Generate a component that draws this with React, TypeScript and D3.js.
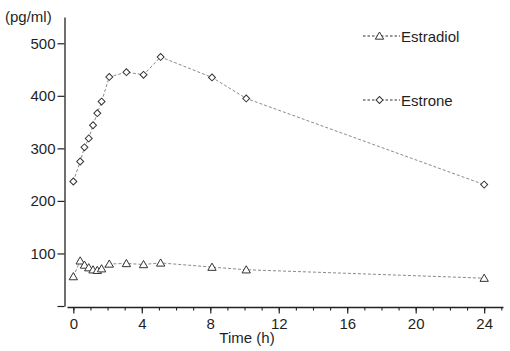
import * as d3 from "d3";
import { useEffect, useRef } from "react";

const TIMES = [0, 0.4, 0.65, 0.9, 1.15, 1.4, 1.65, 2.1, 3.1, 4.1, 5.1, 8.1, 10.1, 24];
const ESTRADIOL = [56, 86, 78, 73, 69, 68, 71, 80, 81, 79, 82, 74, 69, 53];
const ESTRONE = [237, 275, 302, 319, 344, 367, 389, 436, 445, 440, 474, 435, 395, 231];
const X_TICKS = [0, 4, 8, 12, 16, 20, 24];
const Y_TICKS = [0, 100, 200, 300, 400, 500];

const COLORS = {
  text: "#1f1f1f",
  axis: "#222222",
  line: "#8a8a8a",
  marker: "#333333",
};

const FONT = "'Liberation Sans', Arial, sans-serif";

const W = 510;
const H = 351;

const App = () => {
  const svgRef = useRef<SVGSVGElement | null>(null);

  useEffect(() => {
    const svg = d3.select(svgRef.current);
    svg.selectAll("*").remove();

    const x = d3.scaleLinear().domain([-0.37, 25.1]).range([67, 503]);
    const y = d3.scaleLinear().domain([0, 550]).range([306, 17]);

    // y axis
    const yAxis = d3
      .axisLeft(y)
      .tickValues(Y_TICKS)
      .tickSize(7)
      .tickSizeOuter(0)
      .tickPadding(2)
      .tickFormat((d) => (d === 0 ? "" : String(d)));
    const gy = svg.append("g").attr("transform", "translate(64.5,0)").call(yAxis);
    gy.select(".domain").attr("stroke", COLORS.axis).attr("stroke-width", 1.3);
    gy.selectAll("line").attr("stroke", COLORS.axis).attr("stroke-width", 1.2);
    gy.selectAll("text")
      .attr("font-family", FONT)
      .attr("font-size", 15)
      .attr("fill", COLORS.text);

    // x axis (minor ticks)
    const xMinor = d3
      .axisBottom(x)
      .tickValues(d3.range(0, 26))
      .tickSize(3.5)
      .tickSizeOuter(0)
      .tickFormat(() => "");
    const gxm = svg.append("g").attr("transform", "translate(0,307)").call(xMinor);
    gxm.select(".domain").attr("stroke", COLORS.axis).attr("stroke-width", 1.3);
    gxm.selectAll("line").attr("stroke", COLORS.axis).attr("stroke-width", 1.1);

    // x axis (major ticks)
    const xMajor = d3
      .axisBottom(x)
      .tickValues(X_TICKS)
      .tickSize(6.5)
      .tickSizeOuter(0)
      .tickPadding(5);
    const gx = svg.append("g").attr("transform", "translate(0,307)").call(xMajor);
    gx.select(".domain").remove();
    gx.selectAll("line").attr("stroke", COLORS.axis).attr("stroke-width", 1.2);
    gx.selectAll("text")
      .attr("font-family", FONT)
      .attr("font-size", 15)
      .attr("fill", COLORS.text);

    // axis titles
    svg
      .append("text")
      .attr("x", 5)
      .attr("y", 22)
      .attr("font-family", FONT)
      .attr("font-size", 15)
      .attr("fill", COLORS.text)
      .text("(pg/ml)");

    svg
      .append("text")
      .attr("x", 247)
      .attr("y", 342.5)
      .attr("text-anchor", "middle")
      .attr("font-family", FONT)
      .attr("font-size", 15)
      .attr("fill", COLORS.text)
      .text("Time (h)");

    const line = d3
      .line<number>()
      .x((d, i) => x(TIMES[i]))
      .y((d) => y(d));

    const triangle = d3.symbol().type(d3.symbolTriangle).size(30);
    const diamond = d3.symbol().type(d3.symbolSquare).size(24);

    const series = [
      { name: "Estradiol", values: ESTRADIOL, shape: "tri", legendY: 36 },
      { name: "Estrone", values: ESTRONE, shape: "dia", legendY: 100 },
    ];

    const drawMarker = (g, cx, cy, shape) => {
      if (shape === "tri") {
        g.append("path")
          .attr("d", triangle() as string)
          .attr("transform", `translate(${cx},${cy + 0.8})`)
          .attr("fill", "white")
          .attr("stroke", COLORS.marker)
          .attr("stroke-width", 1);
      } else {
        g.append("path")
          .attr("d", diamond() as string)
          .attr("transform", `translate(${cx},${cy}) rotate(45)`)
          .attr("fill", "white")
          .attr("stroke", COLORS.marker)
          .attr("stroke-width", 1);
      }
    };

    series.forEach((s) => {
      svg
        .append("path")
        .datum(s.values)
        .attr("d", line)
        .attr("fill", "none")
        .attr("stroke", COLORS.line)
        .attr("stroke-width", 1)
        .attr("stroke-dasharray", "3,2");

      const g = svg.append("g");
      s.values.forEach((v, i) => drawMarker(g, x(TIMES[i]), y(v), s.shape));

      // legend
      const lg = svg.append("g");
      lg.append("line")
        .attr("x1", 363)
        .attr("x2", 400)
        .attr("y1", s.legendY)
        .attr("y2", s.legendY)
        .attr("stroke", COLORS.marker)
        .attr("stroke-width", 1)
        .attr("stroke-dasharray", "2.5,2");
      drawMarker(lg, 379.5, s.legendY, s.shape);
      lg.append("text")
        .attr("x", 401)
        .attr("y", s.legendY + 6)
        .attr("font-family", FONT)
        .attr("font-size", 15)
        .attr("fill", COLORS.text)
        .text(s.name);
    });
  }, []);

  return (
    <svg
      ref={svgRef}
      width={W}
      height={H}
      style={{ position: "absolute", left: 0, top: 0, background: "#fff" }}
    />
  );
};

export default App;
